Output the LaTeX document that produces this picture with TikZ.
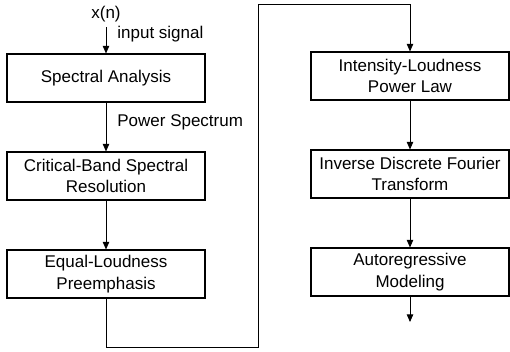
\documentclass[tikz,border=0pt]{standalone}
\usepackage{fontspec}
\setmainfont{Liberation Sans}
\usetikzlibrary{arrows.meta}
\usetikzlibrary{positioning}

\tikzset{
  block/.style={draw, line width=0.9pt, minimum width=5.94cm, minimum height=1.44cm,
                align=center, inner sep=0pt},
  flow/.style={line width=0.8pt, -{Triangle[length=6.5pt,width=5.5pt]}},
}

\begin{document}
\begin{tikzpicture}[x=0.03cm, y=-0.03cm, font=\fontsize{14.5}{18.5}\selectfont]
        \useasboundingbox (0,0) rectangle (510,351);

        \node[block] (1) at (106,78)  {Spectral Analysis};
        \node[block] (2) at (106,176) {Critical-Band Spectral\\Resolution};
        \node[block] (3) at (106,274) {Equal-Loudness\\Preemphasis};
        \node[block] (4) at (410,76)  {Intensity-Loudness\\Power Law};
        \node[block] (5) at (410,174) {Inverse Discrete Fourier\\Transform};
        \node[block] (6) at (410,272) {Autoregressive\\Modeling};

        \node (x) at (106,14) {x(n)};
        \coordinate (in) at (106,27);
        \coordinate (b1) at (258,347);
        \coordinate (b2) at (258,4);
        \coordinate (out) at (410,322);

        \draw[flow] (in) -- node[pos=0.25, right=6pt] {input signal} (1);
        \draw[flow] (1) --  node[pos=0.4, right=6pt] {Power Spectrum} (2);
        \draw[flow] (2) -- (3);
        \draw[flow] (3) |- (b1) -- (b2) -| (4);
        \draw[flow] (4) -- (5);
        \draw[flow] (5) -- (6);
        \draw[flow] (6) -- (out);
    \end{tikzpicture}
\end{document}
